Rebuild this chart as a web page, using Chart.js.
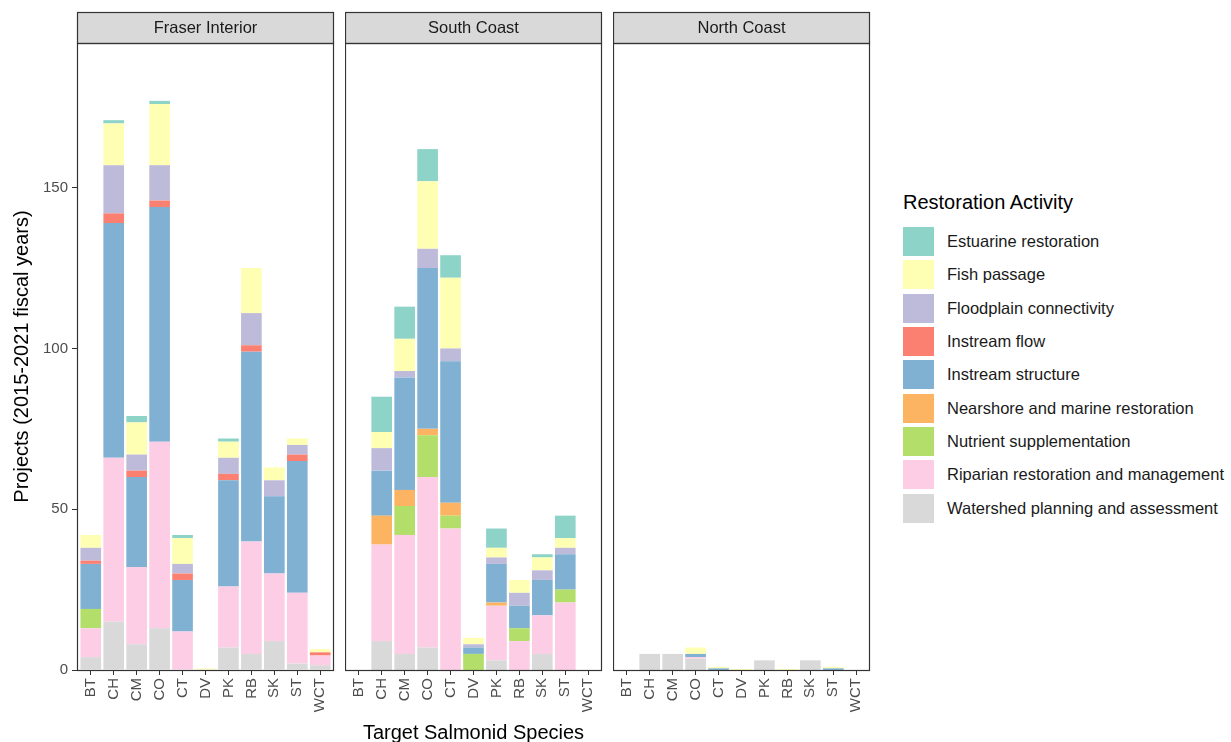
<!DOCTYPE html>
<html>
<head>
<meta charset="utf-8">
<script src="https://cdn.jsdelivr.net/npm/chart.js@4.4.1/dist/chart.umd.min.js"></script>
<style>
  html, body { margin:0; padding:0; background:#fff; }
  body { width:1231px; height:742px; position:relative; overflow:hidden; font-family:'Liberation Sans', Arial, sans-serif; }
  canvas { position:absolute; top:0; }
  #legend { position:absolute; left:903px; top:190px; color:#1a1a1a; }
  #legend .title { font-size:20px; line-height:24px; margin-bottom:11px; color:#000; }
  #legend .row { display:flex; align-items:center; height:33.3px; }
  #legend .key { width:31px; height:29px; margin-right:13px; }
  #legend .lab { font-size:16.5px; white-space:nowrap; }
</style>
</head>
<body>
<canvas id="c0"></canvas>
<canvas id="c1"></canvas>
<canvas id="c2"></canvas>
<div id="legend"></div>
<script>
// ---------------- data ----------------
const species = ['BT','CH','CM','CO','CT','DV','PK','RB','SK','ST','WCT'];
const regions = ['Fraser Interior','South Coast','North Coast'];
const activities = [
  'Estuarine restoration',
  'Fish passage',
  'Floodplain connectivity',
  'Instream flow',
  'Instream structure',
  'Nearshore and marine restoration',
  'Nutrient supplementation',
  'Riparian restoration and management',
  'Watershed planning and assessment'
];
const yTicks = [0, 50, 100, 150];

// rows follow `activities`, columns follow `species`
const fraserInterior = [
  [0, 1, 2, 1, 1, 0, 1, 0, 0, 0, 0],
  [4, 13, 10, 19, 8, 0.5, 5, 14, 4, 2, 1],
  [4, 15, 5, 11, 3, 0, 5, 10, 5, 3, 0],
  [1, 3, 2, 2, 2, 0, 2, 2, 0, 2, 1],
  [14, 73, 28, 73, 16, 0, 33, 59, 24, 41, 0],
  [0, 0, 0, 0, 0, 0, 0, 0, 0, 0, 0],
  [6, 0, 0, 0, 0, 0, 0, 0, 0, 0, 0],
  [9, 51, 24, 58, 12, 0, 19, 35, 21, 22, 3],
  [4, 15, 8, 13, 0, 0, 7, 5, 9, 2, 1.5]
];
const southCoast = [
  [0, 11, 10, 10, 7, 0, 6, 0, 1, 7, 0],
  [0, 5, 10, 21, 22, 2, 3, 4, 4, 3, 0],
  [0, 7, 2, 6, 4, 1, 2, 4, 3, 2, 0],
  [0, 0, 0, 0, 0, 0, 0, 0, 0, 0, 0],
  [0, 14, 35, 50, 44, 2, 12, 7, 11, 11, 0],
  [0, 9, 5, 2, 4, 0, 1, 0, 0, 0, 0],
  [0, 0, 9, 13, 4, 5, 0, 4, 0, 4, 0],
  [0, 30, 37, 53, 44, 0, 17, 9, 12, 21, 0],
  [0, 9, 5, 7, 0, 0, 3, 0, 5, 0, 0]
];
const northCoast = [
  [0, 0, 0, 0, 0, 0, 0, 0, 0, 0, 0],
  [0, 0, 0, 2, 0.5, 0.3, 0, 0.3, 0, 0.5, 0],
  [0, 0, 0, 0, 0, 0, 0, 0, 0, 0, 0],
  [0, 0, 0, 0, 0, 0, 0, 0, 0, 0, 0],
  [0, 0, 0, 1, 0.5, 0, 0, 0, 0, 0.5, 0],
  [0, 0, 0, 0, 0, 0, 0, 0, 0, 0, 0],
  [0, 0, 0, 0, 0, 0, 0, 0, 0, 0, 0],
  [0, 0, 0, 0.5, 0, 0, 0, 0, 0, 0, 0],
  [0, 5, 5, 3.5, 0, 0, 3, 0, 3, 0, 0]
];
const regionData = [fraserInterior, southCoast, northCoast];

// ---------------- styles ----------------
const colors = ['#8DD3C7','#FFFFB3','#BEBADA','#FB8072','#80B1D3','#FDB462','#B3DE69','#FCCDE5','#D9D9D9'];
const FONT = "'Liberation Sans', Arial, sans-serif";
Chart.defaults.font.family = FONT;

const panelLeft = [77, 345, 613];
const panelWidth = 257;
const axisW = [77, 0, 0];
const chartH = 742;
const stripTop = 12;
const plotTop = 43;
const xAxisH = 72;

const facetPlugin = {
  id: 'facet',
  beforeDraw(chart, args, opts) {
    const a = chart.chartArea, ctx = chart.ctx;
    ctx.save();
    ctx.fillStyle = '#D9D9D9';
    ctx.fillRect(a.left, stripTop, a.right - a.left, a.top - stripTop);
    ctx.strokeStyle = '#333333';
    ctx.lineWidth = 1.2;
    ctx.strokeRect(a.left + 0.5, stripTop + 0.5, a.right - a.left - 1, a.top - stripTop);
    ctx.fillStyle = '#1a1a1a';
    ctx.font = '16.5px ' + FONT;
    ctx.textAlign = 'center';
    ctx.textBaseline = 'middle';
    ctx.fillText(opts.title, (a.left + a.right) / 2, (stripTop + a.top) / 2 + 1);
    ctx.restore();
  },
  afterDatasetsDraw(chart) {
    const a = chart.chartArea, ctx = chart.ctx;
    ctx.save();
    ctx.strokeStyle = '#333333';
    ctx.lineWidth = 1.2;
    ctx.strokeRect(a.left + 0.5, a.top + 0.5, a.right - a.left - 1, a.bottom - a.top);
    ctx.restore();
  }
};

regions.forEach((region, i) => {
  const cv = document.getElementById('c' + i);
  const w = axisW[i] + panelWidth + 2;
  cv.width = w; cv.height = chartH;
  cv.style.left = (panelLeft[i] - axisW[i]) + 'px';
  cv.style.width = w + 'px'; cv.style.height = chartH + 'px';

  const datasets = activities.map((act, k) => ({
    label: act,
    data: regionData[i][k].map((v, j) => ({ x: j, y: v })),
    backgroundColor: colors[k],
    borderWidth: 0,
    barPercentage: 0.9,
    categoryPercentage: 1
  })).reverse();

  new Chart(cv, {
    type: 'bar',
    data: { datasets },
    plugins: [facetPlugin],
    options: {
      responsive: false,
      animation: false,
      devicePixelRatio: 1,
      layout: { padding: { top: plotTop, right: 2, left: 0, bottom: 0 } },
      plugins: {
        legend: { display: false },
        tooltip: { enabled: false },
        facet: { title: region }
      },
      scales: {
        x: {
          type: 'linear',
          stacked: true,
          offset: false,
          min: -0.6,
          max: species.length - 1 + 0.6,
          afterBuildTicks: s => { s.ticks = species.map((_, j) => ({ value: j })); },
          afterFit: s => { s.height = xAxisH; s.paddingLeft = 0; s.paddingRight = 0; },
          ticks: {
            autoSkip: false,
            minRotation: 90,
            maxRotation: 90,
            padding: 3,
            color: '#4d4d4d',
            font: { size: 15 },
            callback: v => species[v]
          },
          grid: { display: true, drawOnChartArea: false, drawTicks: true, tickLength: 5, color: '#333333', offset: false },
          border: { display: false },
          title: {
            display: i === 1,
            text: 'Target Salmonid Species',
            color: '#000',
            font: { size: 20 },
            padding: { top: 0, bottom: -3 }
          }
        },
        y: {
          stacked: true,
          display: i === 0,
          min: 0,
          max: 195,
          afterBuildTicks: s => { s.ticks = yTicks.map(v => ({ value: v })); },
          afterFit: s => { if (i === 0) { s.width = axisW[0]; } s.paddingTop = 0; s.paddingBottom = 0; },
          ticks: { color: '#4d4d4d', font: { size: 15 }, padding: 4 },
          grid: { display: true, drawOnChartArea: false, drawTicks: true, tickLength: 5, color: '#333333' },
          border: { display: false },
          title: {
            display: true,
            text: 'Projects (2015-2021 fiscal years)',
            color: '#000',
            font: { size: 20 },
            padding: { top: 10, bottom: 0 }
          }
        }
      }
    }
  });
});

// ---------------- legend (HTML text) ----------------
const lg = document.getElementById('legend');
const t = document.createElement('div');
t.className = 'title';
t.textContent = 'Restoration Activity';
lg.appendChild(t);
activities.forEach((act, k) => {
  const row = document.createElement('div');
  row.className = 'row';
  const key = document.createElement('div');
  key.className = 'key';
  key.style.background = colors[k];
  const lab = document.createElement('div');
  lab.className = 'lab';
  lab.textContent = act;
  row.appendChild(key); row.appendChild(lab);
  lg.appendChild(row);
});
</script>
</body>
</html>
